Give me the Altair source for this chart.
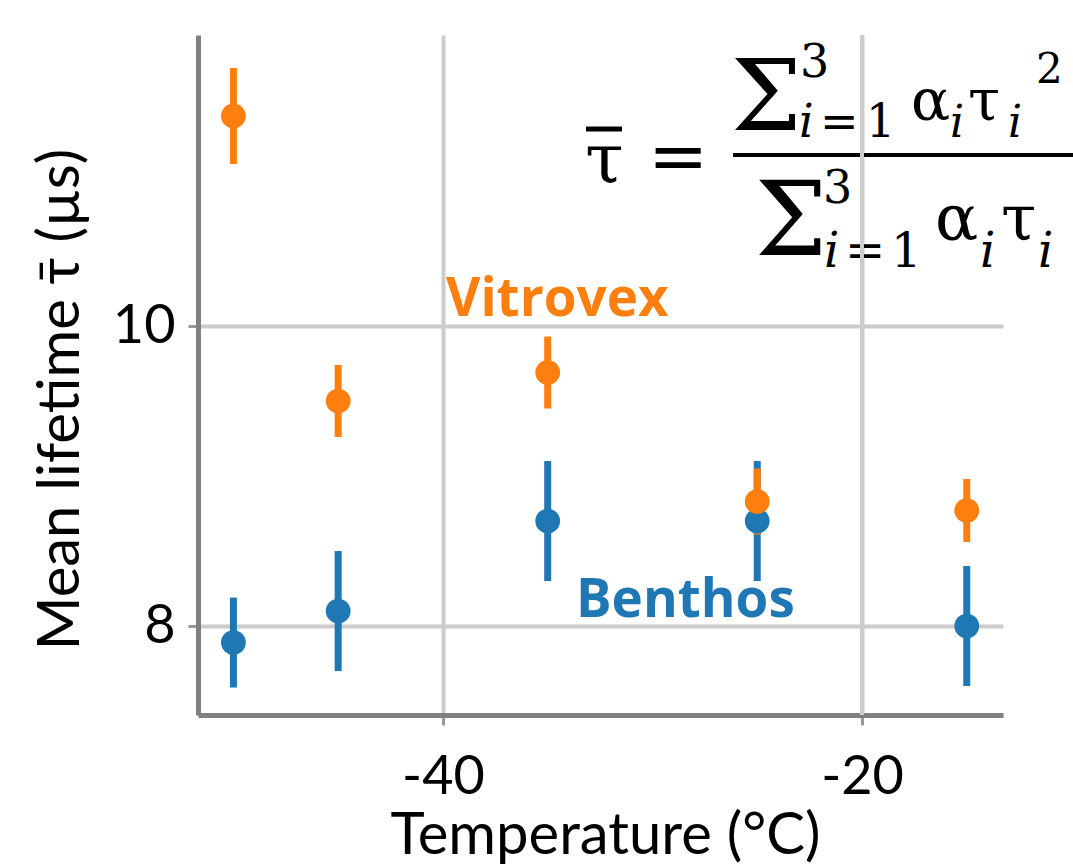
import altair as alt
import pandas as pd

# ---- data ----
temps = [-50, -45, -35, -25, -15]
vitrovex_tau = [11.40, 9.50, 9.69, 8.83, 8.77]
vitrovex_err = [0.32, 0.24, 0.24, 0.22, 0.21]
benthos_tau = [7.89, 8.10, 8.70, 8.70, 8.00]
benthos_err = [0.30, 0.40, 0.40, 0.40, 0.40]
x_ticks = [-40, -20]
y_ticks = [8, 10]

ORANGE = "#ff7f0e"
BLUE = "#1f77b4"
GRID = "#cccccc"
SANS = "Lato"
SERIF = "DejaVu Serif"

PL, PT = 198, 35          # plot origin in page pixels
W, H = 805, 680


def frame(tau, err):
    return pd.DataFrame({
        "t": temps,
        "tau": tau,
        "lo": [a - b for a, b in zip(tau, err)],
        "hi": [a + b for a, b in zip(tau, err)],
    })


vit = frame(vitrovex_tau, vitrovex_err)
ben = frame(benthos_tau, benthos_err)

xs = alt.Scale(domain=[-51.69, -13.27], nice=False, zero=False)
ys = alt.Scale(domain=[7.407, 11.94], nice=False, zero=False)

x_axis = alt.Axis(
    values=x_ticks, title="Temperature (°C)", labelExpr="'' + datum.value",
    labelFontSize=54, labelBaseline="alphabetic", labelPadding=68,
    titleX=407, titleY=138, titleBaseline="alphabetic", titleAlign="center",
)
y_axis = alt.Axis(
    values=y_ticks, title="Mean lifetime τ̄ (µs)", labelFontSize=54,
    labelPadding=13, titleX=-137, titleY=364, titleAngle=-90,
    titleBaseline="middle", titleAlign="center",
)


def X():
    return alt.X("t:Q", scale=xs, axis=x_axis)


def Y(f="tau"):
    return alt.Y(f + ":Q", scale=ys, axis=y_axis)


one = pd.DataFrame({"a": [0]})


def txt(s, x, y, size, italic=False, font=SERIF, weight="normal", color="black"):
    return alt.Chart(one).mark_text(
        text=s, fontSize=size, font=font, align="left", baseline="alphabetic",
        fontStyle="italic" if italic else "normal", fontWeight=weight, color=color,
    ).encode(x=alt.value(x - PL), y=alt.value(y - PT))


def hline(x1, x2, y, w):
    return alt.Chart(one).mark_rule(color="black", strokeWidth=w, strokeCap="butt").encode(
        x=alt.value(x1 - PL), x2=alt.value(x2 - PL), y=alt.value(y - PT)
    )


formula = [
    txt("τ", 585, 182, 70),
    hline(586, 622, 129, 5),
    txt("=", 648, 181, 72),
    hline(733, 1073, 155, 4),
    # numerator
    txt("Σ", 731, 130, 100),
    txt("3", 800, 77, 46),
    txt("i", 799, 137, 46, italic=True),
    txt("=", 820, 137, 46),
    txt("1", 866, 137, 46),
    txt("α", 911, 120, 58),
    txt("i", 950, 137, 44, italic=True),
    txt("τ", 968, 120, 58),
    txt("i", 1008, 137, 44, italic=True),
    txt("2", 1036, 83, 42),
    # denominator
    txt("Σ", 755, 255, 102),
    txt("3", 823, 203, 46),
    txt("i", 824, 267, 48, italic=True),
    txt("=", 845, 267, 48),
    txt("1", 891, 267, 48),
    txt("α", 935, 240, 64),
    txt("i", 980, 267, 48, italic=True),
    txt("τ", 1001, 240, 64),
    txt("i", 1038, 267, 48, italic=True),
]

grid_over = alt.Chart(pd.DataFrame({"t": [-20]})).mark_rule(
    color=GRID, strokeWidth=4
).encode(x=X())


def bars(df, color):
    return alt.Chart(df).mark_rule(color=color, strokeWidth=7, strokeCap="butt").encode(
        x=X(), y=Y("lo"), y2="hi:Q"
    )


def pts(df, color):
    return alt.Chart(df).mark_circle(color=color, size=615, opacity=1).encode(x=X(), y=Y())


labels = [
    txt("Vitrovex", 446, 316, 53, font="Open Sans", weight="bold", color=ORANGE),
    txt("Benthos", 576, 617, 53, font="Open Sans", weight="bold", color=BLUE),
]

chart = alt.layer(
    bars(ben, BLUE), bars(vit, ORANGE),
    *formula, grid_over,
    pts(ben, BLUE), pts(vit, ORANGE),
    *labels,
).properties(
    width=W, height=H,
    padding={"left": PL, "top": PT, "right": 1073 - PL - W, "bottom": 864 - PT - H},
    autosize=alt.AutoSizeParams(type="none"),
).configure_view(stroke=None).configure_axis(
    domainColor="#808080", domainWidth=5, tickColor="#999999", tickWidth=3,
    tickSize=10, gridColor=GRID, gridWidth=4, labelFont=SANS, labelColor="black",
    titleFont=SANS, titleFontSize=58, titleFontWeight="normal", titleColor="black",
)

chart.save("out.html", embed_options={"renderer": "svg", "actions": False})
